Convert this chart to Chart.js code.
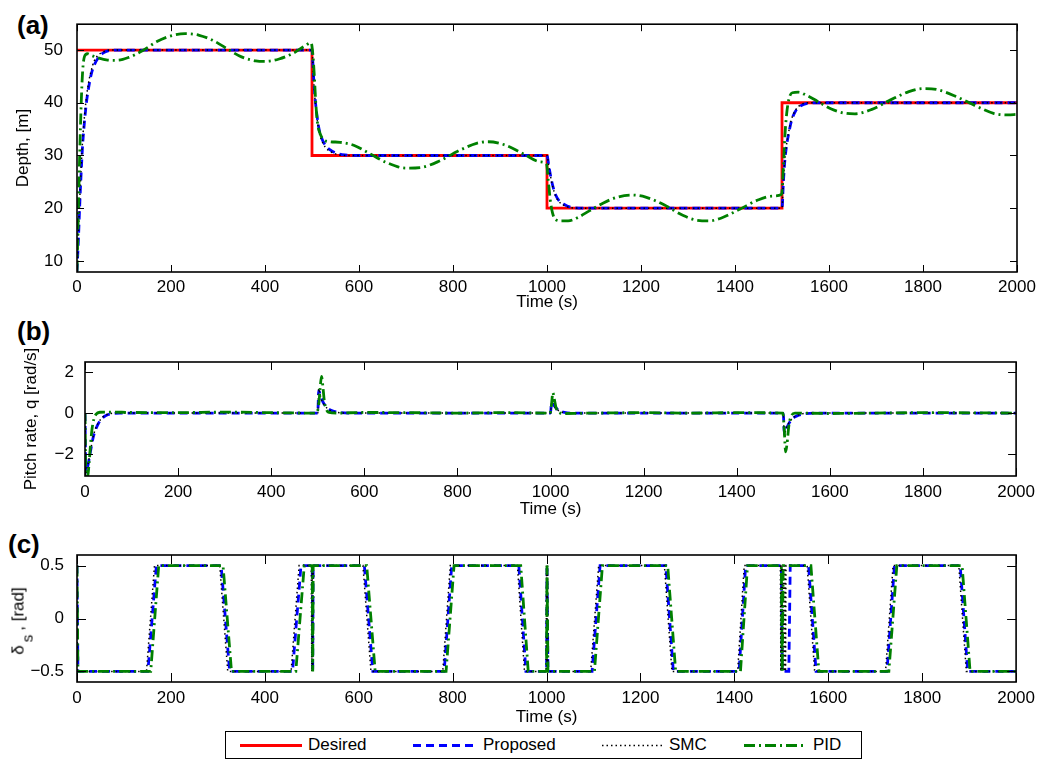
<!DOCTYPE html>
<html>
<head>
<meta charset="utf-8">
<script src="https://cdn.jsdelivr.net/npm/chart.js@4.4.1/dist/chart.umd.min.js"></script>
<style>
  body { margin: 0; background: #fff; width: 1041px; height: 760px; position: relative; overflow: hidden;
         font-family: 'Liberation Sans', Arial, Helvetica, sans-serif; color: #000; }
  canvas { position: absolute; left: 0; }
  .letra { position: absolute; font-weight: bold; font-size: 26px; line-height: 28px; }
  #tituloTimon { position: absolute; left: 22px; top: 621px; font-size: 17px; white-space: nowrap;
                 transform: translate(-50%, -50%) rotate(-90deg); }
  #tituloTimon sub { font-size: 15px; vertical-align: -9px; margin: 0 4px 0 3px; }
  #leyenda { position: absolute; left: 225px; top: 731px; width: 637px; height: 28px; box-sizing: border-box;
             border: 1px solid #000; background: #fff; font-size: 17px; }
  #leyenda span { position: absolute; top: 0; line-height: 26px; }
  #leyenda svg { position: absolute; left: 0; top: 0; }
</style>
</head>
<body>
<div class="letra" style="left:17px; top:11px;">(a)</div>
<div class="letra" style="left:17px; top:317px;">(b)</div>
<div class="letra" style="left:8px; top:530px;">(c)</div>

<canvas id="chartProfundidad" width="1041" height="313" style="top:0px"></canvas>
<canvas id="chartCabeceo" width="1041" height="192" style="top:330px"></canvas>
<canvas id="chartTimon" width="1041" height="200" style="top:530px"></canvas>

<div id="tituloTimon">δ<sub>s</sub>, [rad]</div>

<div id="leyenda">
  <svg width="637" height="28">
    <line x1="14" y1="13.5" x2="76" y2="13.5" stroke="#ff0000" stroke-width="2.8"/>
    <line x1="187" y1="13.5" x2="249" y2="13.5" stroke="#0000ff" stroke-width="2.8" stroke-dasharray="8 5"/>
    <line x1="376" y1="13.5" x2="439" y2="13.5" stroke="#000" stroke-width="1.5" stroke-dasharray="1.5 3"/>
    <line x1="518" y1="13.5" x2="578" y2="13.5" stroke="#008000" stroke-width="2.8" stroke-dasharray="11 4 2 4"/>
  </svg>
  <span style="left:82px">Desired</span>
  <span style="left:257px">Proposed</span>
  <span style="left:443px">SMC</span>
  <span style="left:587px">PID</span>
</div>

<script>
// Ejes
const ticksTiempo = [0, 200, 400, 600, 800, 1000, 1200, 1400, 1600, 1800, 2000];
const ticksProfundidad = [10, 20, 30, 40, 50];
const ticksCabeceo = [-2, 0, 2];
const ticksTimon = [-0.5, 0, 0.5];

// (a) Profundidad [m] — pares [tiempo, valor]
const profDesired = [[0,50],[500,50],[500,30],[1000,30],[1000,20],[1500,20],[1500,40],[2000,40]];
const profProposed = [[0,8],[3,14],[6,21],[9,27],[12,32],[16,36.5],[20,40],[25,43],[30,45.3],[36,47],[45,48.5],[55,49.4],[70,49.9],[90,50],
  [500,50],[503,45.5],[506,41.5],[510,38],[515,35],[520,33.4],[528,32],[538,31.1],[550,30.5],[570,30.1],[600,30],
  [1000,30],[1004,28],[1008,26],[1013,24],[1018,22.6],[1025,21.5],[1035,20.8],[1050,20.2],[1080,20],
  [1500,20],[1503,25],[1506,29],[1510,32],[1515,34.5],[1520,36.5],[1528,38.3],[1538,39.3],[1555,39.9],[1580,40],[2000,40]];
const profSMC = [[0,8],[3,15],[6,22],[9,28],[12,33],[16,37.5],[20,41],[25,44],[30,46],[36,47.8],[45,49],[55,49.6],[70,50],
  [500,50],[503,45],[506,41],[510,37.5],[515,34.5],[520,33],[528,31.6],[538,30.8],[550,30.3],[570,30],
  [1000,30],[1004,27.8],[1008,25.8],[1013,23.8],[1018,22.4],[1025,21.3],[1035,20.6],[1050,20.1],[1075,20],
  [1500,20],[1503,25.2],[1506,29.2],[1510,32.3],[1515,34.8],[1520,36.8],[1528,38.5],[1538,39.5],[1555,40],[2000,40]];
const profPID = [[0,8],[3,20],[6,31],[9,40],[12,46],[16,48.8],[22,49.3],[30,49],[45,48.5],[65,48.1],[85,48.05],[110,48.6],
  [140,49.9],[170,51.6],[200,52.7],[230,53.1],[260,52.8],[290,51.8],[320,50.2],[350,48.7],[380,47.95],[400,47.85],
  [430,48.3],[460,49.4],[485,50.8],[498,51.4],[502,49],[505,45],[508,40],[512,36],[518,34],[526,32.9],[540,32.6],
  [560,32.5],[590,31.9],[620,30.5],[660,28.6],[700,27.6],[730,27.7],[770,28.9],[810,30.8],[850,32.3],[875,32.6],
  [910,32],[950,30.3],[985,28.8],[999,28.3],[1003,25],[1007,21.5],[1012,19],[1018,17.9],[1030,17.6],[1045,17.6],
  [1065,18.2],[1090,19.5],[1120,21],[1150,22.1],[1180,22.5],[1210,22.1],[1250,20.6],[1290,18.6],[1320,17.7],
  [1345,17.6],[1370,18.1],[1410,19.8],[1450,21.6],[1480,22.3],[1499,22.6],[1503,28],[1506,33.5],[1510,38],
  [1515,40.8],[1522,41.9],[1535,42],[1550,41.5],[1575,40.3],[1605,38.8],[1635,38],[1655,37.9],[1690,38.7],
  [1730,40.5],[1770,42.1],[1800,42.7],[1830,42.5],[1870,41.2],[1910,39.5],[1950,38],[1980,37.7],[2000,37.8]];

// (b) Velocidad de cabeceo q [rad/s]
const cabProposed = [[0,0],[2,-2.9],[6,-2.6],[10,-2.1],[14,-1.6],[18,-1.15],[23,-0.8],[29,-0.5],[36,-0.28],[45,-0.12],[58,-0.03],[75,0],
  [500,0],[502,1.1],[506,0.85],[510,0.6],[515,0.4],[521,0.25],[530,0.12],[545,0.04],[565,0],
  [1000,0],[1002,0.5],[1007,0.38],[1013,0.22],[1020,0.1],[1030,0.03],[1045,0],
  [1500,0],[1502,-1.0],[1506,-0.8],[1511,-0.55],[1517,-0.35],[1524,-0.2],[1533,-0.1],[1548,-0.03],[1565,0],[2000,0]];
const cabSMC = [[0,0],[2,-3],[5,-2.7],[9,-2.2],[13,-1.7],[17,-1.2],[22,-0.8],[28,-0.5],[35,-0.27],[44,-0.1],[56,-0.02],[70,0],
  [500,0],[502,1.2],[505,0.9],[509,0.6],[514,0.4],[520,0.24],[528,0.11],[542,0.03],[560,0],
  [1000,0],[1002,0.55],[1006,0.4],[1012,0.22],[1019,0.1],[1028,0.03],[1040,0],
  [1500,0],[1502,-1.1],[1505,-0.85],[1510,-0.55],[1516,-0.35],[1523,-0.2],[1532,-0.09],[1545,-0.02],[1560,0],[2000,0]];
const cabPID = [[0,0],[2,-3.1],[6,-3.05],[9,-2.4],[12,-1.5],[15,-0.8],[19,-0.3],[24,-0.05],[32,0.04],[50,0.05],[100,0.03],
  [200,0.02],[300,0.05],[400,0.02],[497,0],[502,0.4],[505,1.2],[508,1.8],[511,1.3],[514,0.6],[518,0.2],[524,0.03],
  [540,0],[600,0.03],[700,0.02],[800,0],[900,0.02],[999,0],[1002,0.4],[1005,1.0],[1008,0.7],[1012,0.25],[1018,0.03],
  [1030,-0.02],[1100,0],[1200,0.02],[1300,0],[1400,0.02],[1499,0],[1502,-0.8],[1505,-1.9],[1508,-1.5],[1512,-0.6],
  [1517,-0.15],[1525,0],[1600,-0.02],[1800,0.02],[2000,0]];

// (c) Ángulo de timón δs [rad]
const timProposed = [[0,0.5],[2,-0.5],[151,-0.5],[169,0.5],[307,0.5],[325,-0.5],[459,-0.5],[477,0.5],[501,0.5],[502,-0.5],[503,0.5],
  [612,0.5],[630,-0.5],[782,-0.5],[798,0.5],[941,0.5],[956,-0.5],[1000,-0.5],[1001,0.5],[1003,-0.5],[1097,-0.5],[1114,0.5],
  [1254,0.5],[1270,-0.5],[1410,-0.5],[1424,0.5],[1500,0.5],[1502,-0.5],[1516,-0.5],[1519,0.5],[1558,0.5],[1574,-0.5],
  [1725,-0.5],[1741,0.5],[1881,0.5],[1897,-0.5],[2000,-0.5]];
const timSMC = [[0,0.5],[1,-0.5],[148,-0.5],[165,0.5],[304,0.5],[321,-0.5],[456,-0.5],[473,0.5],[499,0.5],[500,-0.5],[501,0.5],
  [502,-0.5],[503,0.5],[609,0.5],[626,-0.5],[779,-0.5],[795,0.5],[938,0.5],[953,-0.5],[999,-0.5],[1000,0.5],[1001,-0.5],
  [1002,0.5],[1003,-0.5],[1094,-0.5],[1111,0.5],[1251,0.5],[1267,-0.5],[1407,-0.5],[1421,0.5],[1498,0.5],[1499,-0.5],
  [1500,0.5],[1501,-0.5],[1502,0.5],[1503,-0.5],[1504,0.5],[1505,-0.5],[1506,0.5],[1507,-0.5],[1508,0.5],[1509,-0.5],
  [1510,0.5],[1555,0.5],[1571,-0.5],[1722,-0.5],[1738,0.5],[1878,0.5],[1894,-0.5],[2000,-0.5]];
const timPID = [[0,0.5],[2,-0.5],[157,-0.5],[174,0.5],[311,0.5],[329,-0.5],[466,-0.5],[484,0.5],[501,0.5],[502,-0.5],[503,0.5],
  [617,0.5],[635,-0.5],[786,-0.5],[803,0.5],[945,0.5],[961,-0.5],[1000,-0.5],[1001,0.5],[1003,-0.5],[1102,-0.5],[1119,0.5],
  [1258,0.5],[1275,-0.5],[1413,-0.5],[1428,0.5],[1500,0.5],[1502,-0.5],[1504,0.5],[1563,0.5],[1580,-0.5],
  [1729,-0.5],[1746,0.5],[1885,0.5],[1902,-0.5],[2000,-0.5]];

const fuente = { family: "'Liberation Sans', Arial, Helvetica, sans-serif", size: 17 };

// estilo de cada controlador (order: el menor se dibuja encima)
const estilos = {
    Desired:  { color: '#ff0000', dash: [],           width: 2.8, order: 3 },
    Proposed: { color: '#0000ff', dash: [8, 5],       width: 2.8, order: 2 },
    SMC:      { color: '#000000', dash: [1.5, 3],     width: 1.5, order: 1 },
    PID:      { color: '#008000', dash: [11, 4, 2, 4], width: 2.8, order: 0 }
};

const formatoTick = v => String(v).replace('-', '\u2212');

// marco y marcas hacia adentro, al estilo MATLAB
const marcoMatlab = {
    id: 'marcoMatlab',
    afterDatasetsDraw(chart, args, opts) {
        const { ctx, chartArea: a, scales: { x, y } } = chart;
        const largo = opts.largo || 7;
        ctx.save();
        ctx.strokeStyle = '#000';
        ctx.setLineDash([]);
        ctx.lineWidth = 1;
        ctx.beginPath();
        x.ticks.forEach(t => {
            const px = Math.round(x.getPixelForValue(t.value)) + 0.5;
            ctx.moveTo(px, a.bottom); ctx.lineTo(px, a.bottom - largo);
            ctx.moveTo(px, a.top); ctx.lineTo(px, a.top + largo);
        });
        y.ticks.forEach(t => {
            const py = Math.round(y.getPixelForValue(t.value)) + 0.5;
            ctx.moveTo(a.left, py); ctx.lineTo(a.left + largo, py);
            ctx.moveTo(a.right, py); ctx.lineTo(a.right - largo, py);
        });
        ctx.stroke();
        ctx.lineWidth = 1.6;
        ctx.strokeRect(a.left, a.top, a.right - a.left, a.bottom - a.top);
        ctx.restore();
    }
};

const crearPanel = (id, series, cfg) => {
    const datasets = Object.keys(series).map(nombre => {
        const e = estilos[nombre];
        const suave = cfg.suave && nombre !== 'Desired';
        return {
            label: nombre,
            data: series[nombre].map(p => ({ x: p[0], y: p[1] })),
            borderColor: e.color,
            borderWidth: e.width,
            borderDash: e.dash,
            order: e.order,
            pointRadius: 0,
            fill: false,
            tension: 0,
            cubicInterpolationMode: suave ? 'monotone' : 'default'
        };
    });
    return new Chart(document.getElementById(id), {
        type: 'line',
        data: { datasets },
        options: {
            responsive: false,
            animation: false,
            devicePixelRatio: 1,
            layout: { padding: { top: cfg.arriba, right: cfg.derecha, left: 0, bottom: 0 } },
            plugins: { legend: { display: false }, tooltip: { enabled: false }, marcoMatlab: { largo: cfg.largo } },
            scales: {
                x: {
                    type: 'linear', min: 0, max: 2000,
                    afterBuildTicks: s => { s.ticks = ticksTiempo.map(v => ({ value: v })); },
                    afterFit: s => { s.height = cfg.altoX; },
                    grid: { display: false, drawTicks: false },
                    border: { display: false },
                    ticks: { color: '#000', font: fuente, padding: cfg.padX, maxRotation: 0, callback: formatoTick },
                    title: { display: true, text: 'Time (s)', color: '#000', font: fuente, padding: { top: 0, bottom: cfg.padTitX } }
                },
                y: {
                    type: 'linear', min: cfg.yMin, max: cfg.yMax,
                    afterBuildTicks: s => { s.ticks = cfg.yTicks.map(v => ({ value: v })); },
                    afterFit: s => { s.width = cfg.izquierda; },
                    grid: { display: false, drawTicks: false },
                    border: { display: false },
                    ticks: { color: '#000', font: fuente, padding: cfg.padY, callback: formatoTick },
                    title: { display: !!cfg.tituloY, text: cfg.tituloY || '', color: '#000', font: fuente,
                             padding: { top: cfg.padTitY, bottom: 0 } }
                }
            }
        },
        plugins: [marcoMatlab]
    });
};

crearPanel('chartProfundidad',
    { Desired: profDesired, Proposed: profProposed, SMC: profSMC, PID: profPID },
    { arriba: 21, derecha: 24, izquierda: 77, altoX: 41, yMin: 7.9, yMax: 54.9, yTicks: ticksProfundidad,
      tituloY: 'Depth, [m]', padTitY: 13, padTitX: 0, padX: 5, padY: 14, largo: 7, suave: true });

crearPanel('chartCabeceo',
    { Proposed: cabProposed, SMC: cabSMC, PID: cabPID },
    { arriba: 32, derecha: 23, izquierda: 85, altoX: 46, yMin: -3.08, yMax: 2.5, yTicks: ticksCabeceo,
      tituloY: 'Pitch rate, q [rad/s]', padTitY: 21, padTitX: 2, padX: 6, padY: 11, largo: 8, suave: true });

crearPanel('chartTimon',
    { Proposed: timProposed, SMC: timSMC, PID: timPID },
    { arriba: 25, derecha: 23, izquierda: 77, altoX: 48, yMin: -0.6, yMax: 0.6, yTicks: ticksTimon,
      tituloY: '', padTitY: 0, padTitX: 2, padX: 6, padY: 13, largo: 9, suave: false });
</script>
</body>
</html>
